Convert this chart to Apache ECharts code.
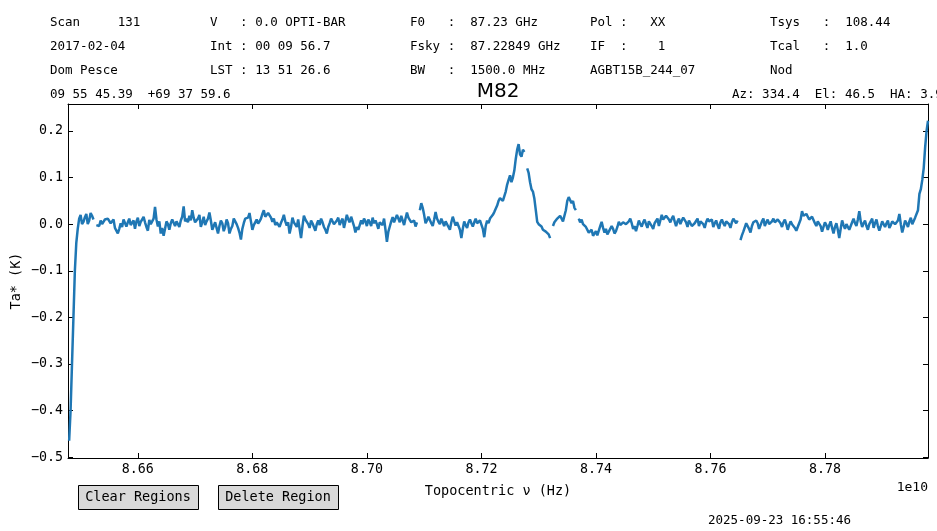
<!DOCTYPE html>
<html>
<head>
<meta charset="utf-8">
<script src="https://cdn.jsdelivr.net/npm/echarts@6/dist/echarts.min.js"></script>
<style>
  html, body { margin: 0; padding: 0; background: #fff; }
  #spec { width: 937px; height: 531px; }
</style>
</head>
<body>
<div id="spec"></div>
<script>
// spectrum: channel frequencies (units of 1e10 Hz) start + step per channel
var freqStart = 8.6480;
var freqStep = 0.00025;

// Ta* (K) per channel (null = blanked channel)
var taValues = [
  -0.465, -0.40, -0.30, -0.20, -0.10, -0.04, -0.01, 0.012, 0.02, 0.0,
  0.005, 0.015, 0.022, 0.0, 0.008, 0.024, 0.018, 0.01, null, -0.002,
  0.002, -0.004, 0.008, 0.0, -0.003, 0.01, 0.006, 0.012, 0.015, 0.002,
  0.004, 0.01, -0.008, -0.012, -0.02, -0.01, 0.002, -0.006, 0.01, 0.014,
  -0.005, 0.004, 0.012, -0.002, 0.003, 0.008, -0.01, 0.006, 0.014, -0.004,
  0.005, 0.01, 0.016, 0.004, -0.006, -0.014, 0.009, 0.0, 0.002, 0.012,
  0.037, 0.01, -0.005, 0.006, -0.02, -0.008, -0.025, -0.01, 0.006, 0.0,
  -0.012, 0.002, 0.01, 0.014, -0.004, 0.006, 0.004, -0.006, 0.008, 0.016,
  0.038, 0.006, 0.012, 0.004, 0.018, 0.008, 0.03, 0.014, 0.004, 0.0,
  0.012, 0.02, -0.006, 0.004, 0.016, -0.002, 0.006, 0.012, 0.025, 0.008,
  -0.012, -0.004, 0.004, -0.008, -0.02, -0.004, 0.008, 0.002, -0.015, -0.006,
  0.01, 0.002, -0.02, -0.01, -0.004, 0.012, 0.006, 0.0, -0.008, -0.018,
  -0.033, -0.01, 0.002, 0.012, 0.008, 0.014, 0.024, 0.006, -0.012, -0.002,
  0.004, 0.01, 0.001, 0.006, 0.012, 0.022, 0.03, 0.016, 0.018, 0.024,
  0.028, 0.014, 0.005, 0.012, -0.002, 0.004, 0.008, -0.006, 0.003, 0.01,
  0.02, 0.006, -0.003, 0.004, -0.02, -0.006, 0.014, 0.004, 0.002, -0.006,
  0.01, -0.01, -0.03, -0.004, 0.018, 0.01, 0.006, 0.0, -0.008, 0.008,
  0.002, -0.006, -0.014, 0.0, 0.008, -0.002, 0.012, 0.004, -0.006, -0.012,
  -0.02, -0.006, 0.002, 0.012, 0.01, 0.0, -0.004, 0.008, 0.014, -0.002,
  0.006, 0.012, -0.008, 0.006, 0.02, 0.01, 0.004, 0.016, 0.012, -0.004,
  -0.018, -0.006, -0.012, -0.002, 0.008, 0.0, 0.012, 0.006, -0.004, 0.01,
  0.004, -0.004, 0.014, 0.002, 0.008, 0.0, -0.01, 0.004, 0.005, -0.002,
  0.012, -0.012, -0.038, -0.016, -0.005, 0.006, 0.015, 0.004, 0.008, 0.02,
  0.012, 0.004, 0.018, 0.008, -0.002, 0.012, 0.025, 0.014, 0.01, 0.004,
  0.0, 0.008, -0.005, 0.004, null, 0.03, 0.045, 0.035, 0.02, 0.002,
  0.008, 0.016, 0.014, 0.002, -0.004, 0.01, 0.026, 0.012, 0.005, 0.0,
  0.012, 0.004, -0.004, 0.006, 0.003, -0.006, -0.012, 0.004, 0.016, 0.006,
  -0.003, 0.004, 0.008, -0.012, -0.03, -0.01, 0.006, -0.002, -0.008, 0.004,
  0.01, 0.002, -0.005, 0.004, 0.012, 0.002, -0.002, 0.008, 0.006, -0.01,
  -0.028, -0.004, 0.008, 0.002, 0.012, 0.016, 0.02, 0.026, 0.03, 0.04,
  0.05, 0.056, 0.06, 0.05, 0.052, 0.07, 0.085, 0.095, 0.105, 0.09,
  0.10, 0.115, 0.14, 0.16, 0.172, 0.15, 0.145, 0.16, 0.155, null,
  0.12, 0.11, 0.09, 0.075, 0.07, 0.055, 0.03, 0.005, 0.0, -0.004,
  -0.005, -0.012, -0.01, -0.016, -0.015, -0.022, -0.03, null, -0.004, 0.004,
  0.002, 0.012, 0.01, 0.018, 0.02, 0.006, 0.01, 0.03, 0.05, 0.058,
  0.06, 0.045, 0.05, 0.035, 0.03, null, 0.012, 0.004, 0.01, 0.0,
  0.0, -0.006, -0.01, -0.018, -0.02, -0.012, -0.025, -0.02, -0.015, -0.024,
  -0.02, -0.004, 0.005, -0.008, -0.018, -0.01, -0.022, -0.016, -0.012, -0.004,
  -0.01, -0.02, -0.015, -0.006, 0.005, -0.002, -0.005, 0.004, 0.006, 0.0,
  -0.002, 0.006, 0.012, 0.002, -0.01, -0.004, -0.015, -0.004, 0.008, 0.0,
  -0.005, 0.004, 0.01, 0.0, -0.008, 0.006, 0.004, -0.004, -0.01, 0.002,
  0.006, 0.012, -0.004, 0.008, 0.02, 0.01, 0.012, 0.018, 0.022, 0.01,
  0.004, 0.012, 0.018, 0.006, -0.004, 0.006, 0.012, 0.0, 0.008, 0.014,
  0.016, 0.004, -0.006, 0.008, 0.004, -0.004, -0.008, 0.002, 0.006, 0.012,
  -0.004, 0.006, 0.01, 0.0, -0.008, 0.004, 0.012, 0.006, 0.002, 0.01,
  -0.006, 0.002, 0.008, -0.002, -0.01, 0.004, 0.01, 0.002, -0.004, 0.006,
  0.01, 0.0, -0.008, 0.004, 0.012, 0.008, 0.002, 0.008, null, -0.034,
  -0.024, -0.016, -0.012, 0.002, 0.0, -0.01, -0.018, -0.004, 0.004, 0.0,
  0.008, 0.002, -0.01, -0.002, 0.006, 0.012, -0.004, 0.004, 0.01, 0.0,
  -0.004, 0.006, 0.012, 0.004, 0.0, 0.01, 0.008, 0.002, -0.006, 0.004,
  0.01, 0.0, -0.012, -0.002, 0.006, 0.0, -0.004, -0.008, -0.014, -0.006,
  -0.008, 0.01, 0.028, 0.018, 0.014, 0.022, 0.02, 0.01, 0.006, 0.016,
  0.012, 0.002, -0.004, 0.006, 0.008, -0.004, -0.016, -0.006, 0.004, -0.002,
  -0.012, -0.002, 0.006, -0.008, -0.02, -0.006, 0.002, -0.012, -0.03, -0.01,
  0.008, -0.002, -0.01, 0.0, 0.004, -0.012, -0.008, 0.004, 0.012, 0.002,
  -0.004, 0.01, 0.028, 0.006, -0.006, 0.002, 0.008, -0.004, -0.012, 0.0,
  0.004, 0.012, -0.008, 0.002, 0.01, -0.004, -0.014, -0.004, 0.006, 0.01,
  -0.006, 0.002, 0.008, -0.008, -0.002, 0.006, 0.01, 0.0, -0.004, 0.008,
  0.022, 0.0, -0.018, -0.006, 0.008, 0.002, -0.006, 0.006, 0.014, 0.0,
  0.004, 0.014, 0.012, 0.03, 0.065, 0.075, 0.095, 0.12, 0.165, 0.2,
  0.222
];

var xTicks = [8.66, 8.68, 8.70, 8.72, 8.74, 8.76, 8.78];
var yTicks = [-0.5, -0.4, -0.3, -0.2, -0.1, 0.0, 0.1, 0.2];

// header block: [text, x, y]
var headerLines = [
  ['Scan     131', 50, 23], ['V   : 0.0 OPTI-BAR', 210, 23], ['F0   :  87.23 GHz', 410, 23],
  ['Pol :   XX', 590, 23], ['Tsys   :  108.44', 770, 23],
  ['2017-02-04', 50, 47], ['Int : 00 09 56.7', 210, 47], ['Fsky :  87.22849 GHz', 410, 47],
  ['IF  :    1', 590, 47], ['Tcal   :  1.0', 770, 47],
  ['Dom Pesce', 50, 71], ['LST : 13 51 26.6', 210, 71], ['BW   :  1500.0 MHz', 410, 71],
  ['AGBT15B_244_07', 590, 71], ['Nod', 770, 71],
  ['09 55 45.39  +69 37 59.6', 50, 95], ['Az: 334.4  El: 46.5  HA: 3.9', 732, 95]
];

var MONO = '"DejaVu Sans Mono", monospace';

var lineData = taValues.map(function (v, i) {
  return [freqStart + i * freqStep, v];
});

function minusFmt(v) {
  return v.toFixed(1).replace('-', '\u2212');
}

var graphics = headerLines.map(function (h) {
  return {
    type: 'text', x: h[1], y: h[2],
    style: { text: h[0], fill: '#000', font: '12.5px ' + MONO, textAlign: 'left', verticalAlign: 'middle' }
  };
});
graphics.push(
  { type: 'text', x: 498, y: 92, style: { text: 'M82', fill: '#000', font: '20px "DejaVu Sans"', textAlign: 'center', verticalAlign: 'middle' } },
  { type: 'text', x: 498, y: 491, style: { text: 'Topocentric \u03bd (Hz)', fill: '#000', font: '13.5px ' + MONO, textAlign: 'center', verticalAlign: 'middle' } },
  { type: 'text', x: 16, y: 281, rotation: Math.PI / 2, style: { text: 'Ta* (K)', fill: '#000', font: '13.5px ' + MONO, textAlign: 'center', verticalAlign: 'middle' } },
  { type: 'text', x: 928, y: 488, style: { text: '1e10', fill: '#000', font: '13px ' + MONO, textAlign: 'right', verticalAlign: 'middle' } },
  { type: 'text', x: 708, y: 521, style: { text: '2025-09-23 16:55:46', fill: '#000', font: '12.5px ' + MONO, textAlign: 'left', verticalAlign: 'middle' } },
  // buttons
  { type: 'rect', shape: { x: 78.5, y: 485.5, width: 120, height: 24 }, style: { fill: '#d9d9d9', stroke: '#000', lineWidth: 1 } },
  { type: 'text', x: 138, y: 497, style: { text: 'Clear Regions', fill: '#000', font: '13.5px ' + MONO, textAlign: 'center', verticalAlign: 'middle' } },
  { type: 'rect', shape: { x: 218.5, y: 485.5, width: 120, height: 24 }, style: { fill: '#d9d9d9', stroke: '#000', lineWidth: 1 } },
  { type: 'text', x: 278, y: 497, style: { text: 'Delete Region', fill: '#000', font: '13.5px ' + MONO, textAlign: 'center', verticalAlign: 'middle' } }
);

var xMin = 8.6478, xMax = 8.7980;
var yMin = -0.502, yMax = 0.258;

function xAxisDef(pos, labels) {
  return {
    type: 'value', position: pos, min: xMin, max: xMax,
    splitLine: { show: false },
    axisLine: { show: true, onZero: false, lineStyle: { color: '#000', width: 1 } },
    axisTick: { show: true, inside: true, length: 5, customValues: xTicks, lineStyle: { color: '#000' } },
    axisLabel: {
      show: labels, customValues: xTicks, margin: 5, color: '#000',
      fontFamily: 'DejaVu Sans Mono', fontSize: 13.3,
      formatter: function (v) { return v.toFixed(2); }
    }
  };
}
function yAxisDef(pos, labels) {
  return {
    type: 'value', position: pos, min: yMin, max: yMax,
    splitLine: { show: false },
    axisLine: { show: true, onZero: false, lineStyle: { color: '#000', width: 1 } },
    axisTick: { show: true, inside: true, length: 5, customValues: yTicks, lineStyle: { color: '#000' } },
    axisLabel: {
      show: labels, customValues: yTicks, margin: 5, color: '#000',
      fontFamily: 'DejaVu Sans Mono', fontSize: 13.3,
      formatter: minusFmt
    }
  };
}

var option = {
  animation: false,
  backgroundColor: '#fff',
  grid: { left: 68, right: 9, top: 104, bottom: 73 },
  xAxis: [xAxisDef('bottom', true), xAxisDef('top', false)],
  yAxis: [yAxisDef('left', true), yAxisDef('right', false)],
  series: [{
    type: 'line',
    data: lineData,
    showSymbol: false,
    connectNulls: false,
    clip: true,
    lineStyle: { color: '#1f77b4', width: 2.5 },
    itemStyle: { color: '#1f77b4' }
  }],
  graphic: graphics
};

var myChart = echarts.init(document.getElementById('spec'));
myChart.setOption(option);
</script>
</body>
</html>
